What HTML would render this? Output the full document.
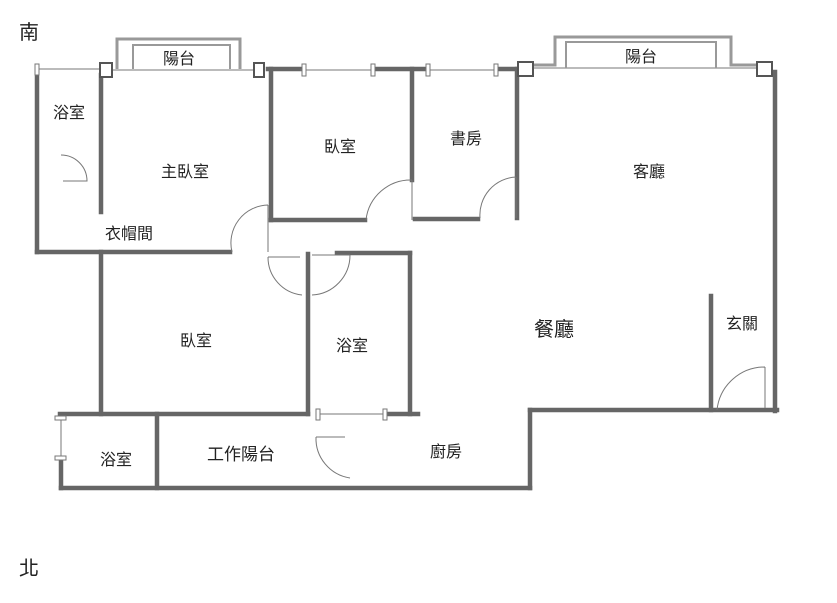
<!DOCTYPE html>
<html><head><meta charset="utf-8"><style>
html,body{margin:0;padding:0;background:#fff;width:837px;height:603px;overflow:hidden}
svg{display:block}
text{font-family:"Liberation Sans","Noto Sans CJK TC",sans-serif;fill:#222}
</style></head><body>
<svg width="837" height="603" viewBox="0 0 837 603">
<g stroke="#666" stroke-width="4.5" fill="none" stroke-linecap="square">
<line x1="37" y1="70" x2="37" y2="252"/>
<line x1="101" y1="75" x2="101" y2="212"/>
<line x1="37" y1="252" x2="230" y2="252"/>
<line x1="271" y1="69" x2="271" y2="220"/>
<line x1="271" y1="220" x2="365" y2="220"/>
<line x1="268" y1="69" x2="300" y2="69"/>
<line x1="375" y1="69" x2="425" y2="69"/>
<line x1="497" y1="69" x2="517" y2="69"/>
<line x1="412" y1="69" x2="412" y2="180"/>
<line x1="415" y1="219" x2="478" y2="219"/>
<line x1="517" y1="69" x2="517" y2="218"/>
<line x1="775" y1="72" x2="775" y2="411"/>
<line x1="101" y1="252" x2="101" y2="414"/>
<line x1="60" y1="414" x2="308" y2="414"/>
<line x1="308" y1="254" x2="308" y2="414"/>
<line x1="337" y1="253" x2="410" y2="253"/>
<line x1="410" y1="253" x2="410" y2="414"/>
<line x1="385" y1="414" x2="418" y2="414"/>
<line x1="157" y1="414" x2="157" y2="488"/>
<line x1="61" y1="458" x2="61" y2="488"/>
<line x1="61" y1="488" x2="530" y2="488"/>
<line x1="530" y1="410" x2="530" y2="488"/>
<line x1="530" y1="410" x2="777" y2="410"/>
<line x1="711" y1="296" x2="711" y2="410"/>
</g>
<g stroke="#777" stroke-width="1" fill="none">
<line x1="37" y1="69" x2="102" y2="69"/>
<line x1="102" y1="70" x2="258" y2="70"/>
<line x1="300" y1="70" x2="375" y2="70"/>
<line x1="425" y1="70" x2="497" y2="70"/>
<line x1="534" y1="68" x2="757" y2="68"/>
<line x1="318" y1="414" x2="385" y2="414"/>
<line x1="61" y1="418" x2="61" y2="458"/>
<path d="M117 69 V39 H240 V69" stroke="#999" stroke-width="3"/>
<path d="M133 69 V45 H230 V69" stroke="#999" stroke-width="2"/>
<path d="M533 65 H555 V37 H731 V65 H757" stroke="#999" stroke-width="3"/>
<path d="M566 68 V42 H716 V68" stroke="#999" stroke-width="2"/>
<rect x="35" y="64" width="4" height="11" fill="#fff"/>
<rect x="100" y="63" width="12" height="14" fill="#fff" stroke="#555" stroke-width="2"/>
<rect x="254" y="63" width="10" height="14" fill="#fff" stroke="#555" stroke-width="2"/>
<rect x="302" y="64" width="4" height="12" fill="#fff"/>
<rect x="371" y="64" width="4" height="12" fill="#fff"/>
<rect x="426" y="64" width="4" height="12" fill="#fff"/>
<rect x="494" y="64" width="4" height="12" fill="#fff"/>
<rect x="518" y="62" width="15" height="14" fill="#fff" stroke="#555" stroke-width="2"/>
<rect x="757" y="62" width="15" height="14" fill="#fff" stroke="#555" stroke-width="2"/>
<rect x="316" y="409" width="4" height="11" fill="#fff"/>
<rect x="383" y="409" width="4" height="11" fill="#fff"/>
<rect x="55" y="416" width="11" height="4" fill="#fff"/>
<rect x="55" y="456" width="11" height="4" fill="#fff"/>
<path d="M61 155 A26 26 0 0 1 87 181 H63"/>
<path d="M268 205 A38 38 0 0 0 232 252 M268 205 V252"/>
<path d="M268 257 A38 38 0 0 0 302 295 M268 257 H300"/>
<path d="M350 255 A40 40 0 0 1 312 295 M312 255 H350"/>
<path d="M412 180 A45 45 0 0 0 366 220 M412 180 V220"/>
<path d="M516 177 A38 38 0 0 0 480 218 M516 177 V218"/>
<path d="M316 437 A40 40 0 0 0 350 478 M316 437 H345"/>
<path d="M765 367 A48 48 0 0 0 717 410 M765 367 V408"/>
</g>
<g font-size="16" text-anchor="middle">
<text x="29" y="39" font-size="20">南</text>
<text x="29" y="575" font-size="20">北</text>
<text x="179" y="64">陽台</text>
<text x="641" y="62">陽台</text>
<text x="69" y="118">浴室</text>
<text x="185" y="177">主臥室</text>
<text x="129" y="239">衣帽間</text>
<text x="340" y="152">臥室</text>
<text x="466" y="144">書房</text>
<text x="649" y="177">客廳</text>
<text x="196" y="346">臥室</text>
<text x="352" y="351">浴室</text>
<text x="554" y="336" font-size="20">餐廳</text>
<text x="742" y="329">玄關</text>
<text x="116" y="465">浴室</text>
<text x="241" y="460" font-size="17">工作陽台</text>
<text x="446" y="457">廚房</text>
</g>
</svg>
</body></html>
